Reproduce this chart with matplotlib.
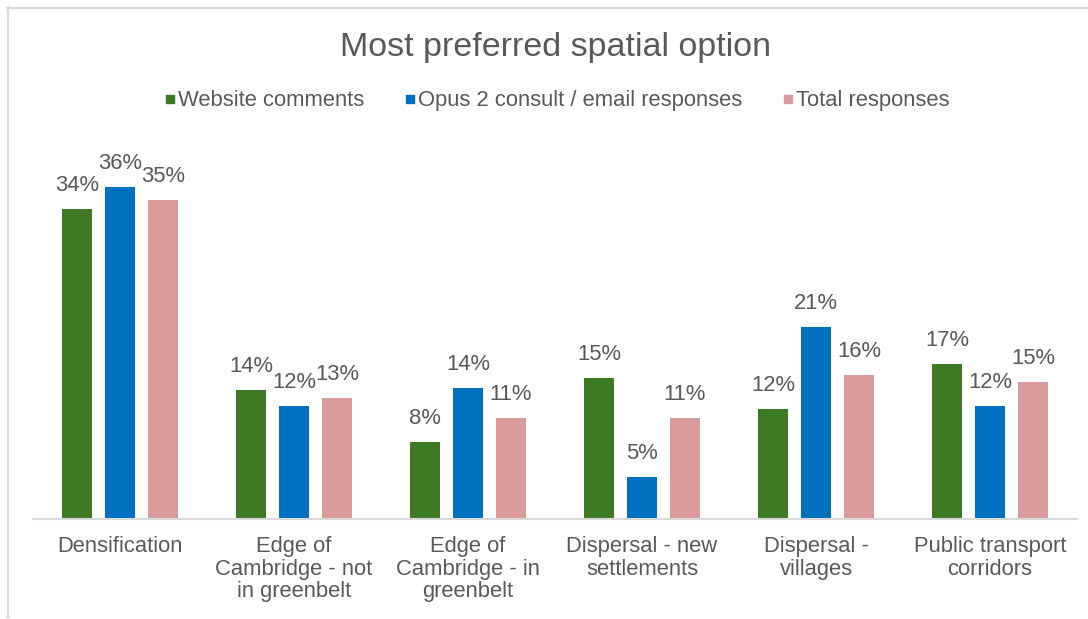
import numpy as np
import matplotlib
matplotlib.use('Agg')
from matplotlib import pyplot as plt
from matplotlib.lines import Line2D

# data (percent of responses)
categories = ["Densification", "Edge of\nCambridge - not\nin greenbelt",
              "Edge of\nCambridge - in\ngreenbelt", "Dispersal - new\nsettlements",
              "Dispersal -\nvillages", "Public transport\ncorridors"]
website = [33.8, 14.1, 8.4, 15.4, 12.0, 16.9]
opus = [36.2, 12.3, 14.3, 4.6, 21.0, 12.3]
total = [34.8, 13.2, 11.0, 11.0, 15.7, 14.9]
series_names = ["Website comments", "Opus 2 consult / email responses", "Total responses"]

colors = ["#3d7a23", "#0070c0", "#da9b9c"]
txt = "#595959"
fs = 15.8

plt.rcParams['font.family'] = ['Liberation Sans', 'DejaVu Sans']

fig = plt.figure(figsize=(10.88, 6.19), dpi=100)
ax = fig.add_axes([0.0303, 0.1616, 0.9596, 0.592])

x = np.arange(len(categories))
w = 0.172
off = 0.247
for i, vals in enumerate([website, opus, total]):
    bars = ax.bar(x + (i - 1) * off, vals, width=w, color=colors[i],
                  label=series_names[i], zorder=2)
    for b, v in zip(bars, vals):
        ax.annotate(f"{v:.0f}%", (b.get_x() + b.get_width() / 2, v),
                    xytext=(0, 13), textcoords='offset points',
                    ha='center', va='baseline', fontsize=fs, color=txt)

ax.set_xlim(-0.5, len(categories) - 0.5)
ax.set_ylim(0, 40)
ax.set_yticks([])
ax.set_xticks(x)
ax.set_xticklabels(categories, fontsize=fs, color=txt, linespacing=1.12)
ax.tick_params(axis='x', length=0, pad=12)
for s in ['top', 'right', 'left']:
    ax.spines[s].set_visible(False)
ax.spines['bottom'].set_color('#d9d9d9')
ax.spines['bottom'].set_linewidth(1.5)

fig.text(0.511, 0.924, "Most preferred spatial option", ha='center', va='center',
         fontsize=24.5, color=txt)

handles = [Line2D([], [], marker='s', linestyle='none', markersize=6,
                  color=c) for c in colors]
fig.legend(handles, series_names, loc='center', bbox_to_anchor=(0.5115, 0.837),
           ncol=3, frameon=False, fontsize=fs, labelcolor=txt,
           handletextpad=0.1, columnspacing=1.75, handlelength=0.6)

# light chart border
fig.add_artist(Line2D([7 / 1088, 1], [1 - 7.5 / 619] * 2, color='#d9d9d9', lw=1.5))
fig.add_artist(Line2D([7.5 / 1088] * 2, [1 - 7 / 619, 2 / 619], color='#d9d9d9', lw=1.5))

fig.savefig('out.png', dpi=100)
